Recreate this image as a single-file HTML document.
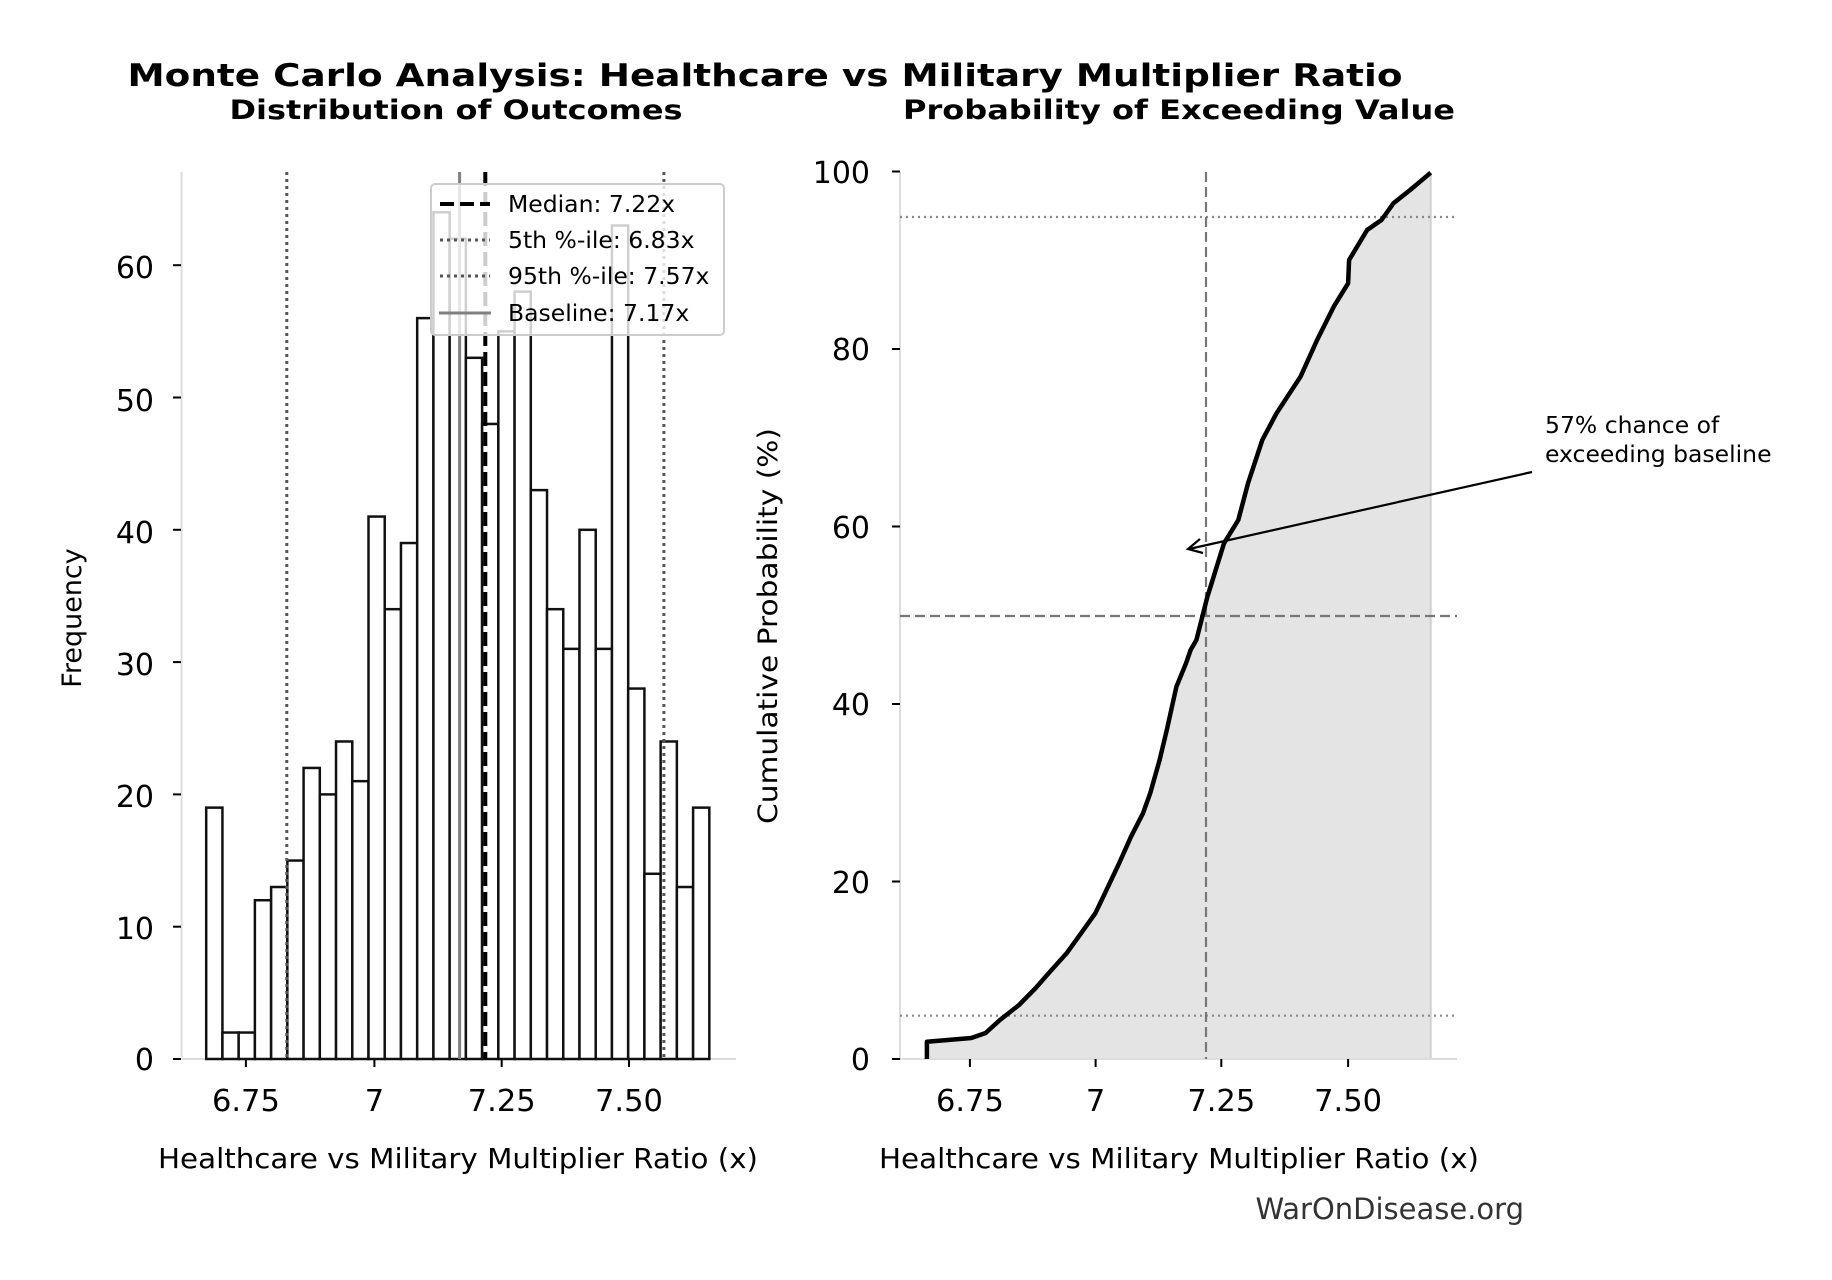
<!DOCTYPE html>
<html><head><meta charset="utf-8"><style>
html,body{margin:0;padding:0;background:#fff}
svg{display:block}
text{font-family:"DejaVu Sans","Liberation Sans",sans-serif}
</style></head><body>
<svg width="1832" height="1280" viewBox="0 0 1832 1280" xmlns="http://www.w3.org/2000/svg">
<rect width="1832" height="1280" fill="#fff"/>
<!-- titles -->
<text x="765" y="86" font-size="31" font-weight="bold" text-anchor="middle" textLength="1275" lengthAdjust="spacingAndGlyphs">Monte Carlo Analysis: Healthcare vs Military Multiplier Ratio</text>
<text x="456" y="119" font-size="27" font-weight="bold" text-anchor="middle" textLength="453" lengthAdjust="spacingAndGlyphs">Distribution of Outcomes</text>
<text x="1179" y="119" font-size="27" font-weight="bold" text-anchor="middle" textLength="552" lengthAdjust="spacingAndGlyphs">Probability of Exceeding Value</text>

<!-- LEFT PANEL -->
<line x1="181.6" y1="172" x2="181.6" y2="1059" stroke="#ddd" stroke-width="2"/>
<line x1="181.6" y1="1059" x2="736" y2="1059" stroke="#ddd" stroke-width="2"/>
<g stroke="#000" stroke-width="2">
<line x1="173" y1="1059" x2="181" y2="1059"/><line x1="173" y1="926.7" x2="181" y2="926.7"/>
<line x1="173" y1="794.4" x2="181" y2="794.4"/><line x1="173" y1="662.1" x2="181" y2="662.1"/>
<line x1="173" y1="529.8" x2="181" y2="529.8"/><line x1="173" y1="397.5" x2="181" y2="397.5"/>
<line x1="173" y1="265.2" x2="181" y2="265.2"/>
<line x1="245.9" y1="1059" x2="245.9" y2="1067"/><line x1="374.4" y1="1059" x2="374.4" y2="1067"/>
<line x1="501.7" y1="1059" x2="501.7" y2="1067"/><line x1="629" y1="1059" x2="629" y2="1067"/>
</g>
<g font-size="30" text-anchor="end">
<text x="154" y="1070">0</text><text x="154" y="939">10</text><text x="154" y="807">20</text>
<text x="154" y="675">30</text><text x="154" y="543">40</text><text x="154" y="411">50</text><text x="154" y="278">60</text>
</g>
<g font-size="30.5" text-anchor="middle">
<text x="245.9" y="1111">6.75</text><text x="374.4" y="1111">7</text>
<text x="501.7" y="1111">7.25</text><text x="629" y="1111">7.50</text>
</g>
<text x="458" y="1168" font-size="28" text-anchor="middle" textLength="600" lengthAdjust="spacingAndGlyphs">Healthcare vs Military Multiplier Ratio (x)</text>
<text transform="translate(81,618) rotate(-90)" font-size="27" text-anchor="middle">Frequency</text>

<g id="bars" fill="#fff" stroke="#111" stroke-width="2.5"></g>

<line x1="286.8" y1="172" x2="286.8" y2="1059" stroke="#555" stroke-width="3" stroke-dasharray="3,4"/>
<line x1="663.9" y1="172" x2="663.9" y2="1059" stroke="#555" stroke-width="3" stroke-dasharray="3,4"/>
<line x1="459.6" y1="172" x2="459.6" y2="1059" stroke="#808080" stroke-width="3"/>
<line x1="485.3" y1="172" x2="485.3" y2="1059" stroke="#000" stroke-width="4" stroke-dasharray="14,6"/>

<!-- legend -->
<rect x="431" y="184" width="293" height="151" rx="4" fill="#fff" fill-opacity="0.8" stroke="#ccc" stroke-width="2"/>
<line x1="440" y1="204" x2="490" y2="204" stroke="#000" stroke-width="4" stroke-dasharray="14,6"/>
<line x1="440" y1="240" x2="490" y2="240" stroke="#555" stroke-width="3" stroke-dasharray="3,4"/>
<line x1="440" y1="276" x2="490" y2="276" stroke="#555" stroke-width="3" stroke-dasharray="3,4"/>
<line x1="439" y1="313" x2="491" y2="313" stroke="#808080" stroke-width="3"/>
<g font-size="23.5">
<text x="508" y="212">Median: 7.22x</text>
<text x="508" y="248">5th %-ile: 6.83x</text>
<text x="508" y="284">95th %-ile: 7.57x</text>
<text x="508" y="321">Baseline: 7.17x</text>
</g>

<!-- RIGHT PANEL -->
<path d="M926.9,1059 L926.9,1041.7 L971.3,1038 L985.6,1033 L999.9,1020 L1019,1005 L1035.7,988 L1050,971.7 L1066.6,953.3 L1078.6,936.7 L1095.3,913.3 L1104.9,893.3 L1119.1,863.3 L1131,836.7 L1143,813.3 L1150.2,793.3 L1159.6,760 L1166.8,730 L1176.4,686.7 L1186,663.3 L1190.6,650 L1196.4,640 L1207.4,596.7 L1224,543.3 L1238.3,520 L1248,483.3 L1262.3,440 L1276.5,413.3 L1300.5,376.7 L1317.1,340 L1333.7,306.7 L1348.1,283.3 L1349.1,260 L1367.1,230 L1381.5,220 L1393.4,203.3 L1410.1,190 L1430.7,172.7 L1430.7,1059 Z" fill="#e4e4e4"/>
<line x1="1430.7" y1="172.7" x2="1430.7" y2="1059" stroke="#d0d0d0" stroke-width="2"/>
<line x1="900" y1="172" x2="900" y2="1059" stroke="#ddd" stroke-width="2"/>
<line x1="900" y1="1059" x2="1457" y2="1059" stroke="#ddd" stroke-width="2"/>
<g stroke="#000" stroke-width="2">
<line x1="892" y1="1059" x2="900" y2="1059"/><line x1="892" y1="881.5" x2="900" y2="881.5"/>
<line x1="892" y1="704" x2="900" y2="704"/><line x1="892" y1="526.5" x2="900" y2="526.5"/>
<line x1="892" y1="349" x2="900" y2="349"/><line x1="892" y1="171.5" x2="900" y2="171.5"/>
<line x1="969.9" y1="1059" x2="969.9" y2="1067"/><line x1="1095.6" y1="1059" x2="1095.6" y2="1067"/>
<line x1="1221.3" y1="1059" x2="1221.3" y2="1067"/><line x1="1348.1" y1="1059" x2="1348.1" y2="1067"/>
</g>
<g font-size="30" text-anchor="end">
<text x="870" y="1070">0</text><text x="870" y="893">20</text><text x="870" y="715">40</text>
<text x="870" y="538">60</text><text x="870" y="360">80</text><text x="870" y="183">100</text>
</g>
<g font-size="30.5" text-anchor="middle">
<text x="969.9" y="1111">6.75</text><text x="1095.6" y="1111">7</text>
<text x="1221.3" y="1111">7.25</text><text x="1348.1" y="1111">7.50</text>
</g>
<text x="1179" y="1168" font-size="28" text-anchor="middle" textLength="600" lengthAdjust="spacingAndGlyphs">Healthcare vs Military Multiplier Ratio (x)</text>
<text transform="translate(777,626) rotate(-90)" font-size="27" text-anchor="middle" textLength="396" lengthAdjust="spacingAndGlyphs">Cumulative Probability (%)</text>

<line x1="900" y1="217" x2="1457" y2="217" stroke="#888" stroke-width="2.2" stroke-dasharray="2,4"/>
<line x1="900" y1="1015.7" x2="1457" y2="1015.7" stroke="#888" stroke-width="2.2" stroke-dasharray="2,4"/>
<line x1="900" y1="616" x2="1457" y2="616" stroke="#777" stroke-width="2.2" stroke-dasharray="10,5"/>
<line x1="1206" y1="172" x2="1206" y2="1059" stroke="#777" stroke-width="2.2" stroke-dasharray="10,5"/>

<path d="M926.9,1059 L926.9,1041.7 L971.3,1038 L985.6,1033 L999.9,1020 L1019,1005 L1035.7,988 L1050,971.7 L1066.6,953.3 L1078.6,936.7 L1095.3,913.3 L1104.9,893.3 L1119.1,863.3 L1131,836.7 L1143,813.3 L1150.2,793.3 L1159.6,760 L1166.8,730 L1176.4,686.7 L1186,663.3 L1190.6,650 L1196.4,640 L1207.4,596.7 L1224,543.3 L1238.3,520 L1248,483.3 L1262.3,440 L1276.5,413.3 L1300.5,376.7 L1317.1,340 L1333.7,306.7 L1348.1,283.3 L1349.1,260 L1367.1,230 L1381.5,220 L1393.4,203.3 L1410.1,190 L1430.7,172.7" fill="none" stroke="#000" stroke-width="4.5" stroke-linejoin="round"/>

<!-- annotation -->
<line x1="1532" y1="472" x2="1189" y2="549" stroke="#000" stroke-width="2.2"/>
<path d="M1200,539 L1188,549 L1203,553" fill="none" stroke="#000" stroke-width="2.2"/>
<g font-size="23.5">
<text x="1545" y="433">57% chance of</text>
<text x="1545" y="462">exceeding baseline</text>
</g>
<text x="1524" y="1219" font-size="29" fill="#333" text-anchor="end">WarOnDisease.org</text>
</svg>
<script>
(function(){
var c=[19,2,2,12,13,15,22,20,24,21,41,34,39,56,64,62,53,48,55,58,43,34,31,40,31,63,28,14,24,13,19];
var g=document.getElementById('bars'),s='';
for(var i=0;i<c.length;i++){var x=206.2+i*16.23,h=c[i]*13.23;
s+='<rect x="'+x.toFixed(2)+'" y="'+(1059-h).toFixed(2)+'" width="16.23" height="'+h.toFixed(2)+'"/>';}
g.innerHTML=s;
})();
</script>
</body></html>
